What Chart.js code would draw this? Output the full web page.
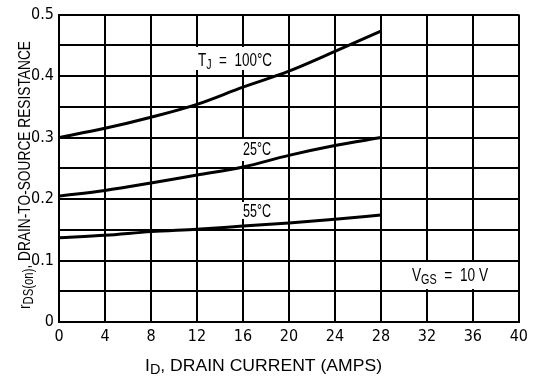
<!DOCTYPE html>
<html>
<head>
<meta charset="utf-8">
<script src="https://cdn.jsdelivr.net/npm/chart.js@4.4.0/dist/chart.umd.min.js"></script>
<style>
  html, body { margin: 0; padding: 0; background: #fff; }
  #wrap { width: 533px; height: 376px; }
</style>
</head>
<body>
<div id="wrap"><canvas id="chart" width="533" height="376"></canvas></div>
<script>
// drain current (A) and on-resistance (ohm)
const current = [0, 4, 8, 12, 16, 20, 24, 28];
const rds100 = [0.300, 0.315, 0.333, 0.354, 0.382, 0.408, 0.440, 0.473];
const rds25 = [0.205, 0.214, 0.226, 0.239, 0.252, 0.271, 0.287, 0.300];
const rds55 = [0.137, 0.141, 0.147, 0.151, 0.156, 0.161, 0.167, 0.174];

const xTicks = [0, 4, 8, 12, 16, 20, 24, 28, 32, 36, 40];
const yLabels = ["0", "0.1", "0.2", "0.3", "0.4", "0.5"];

const TICK_FONT = "'DejaVu Sans Condensed', 'Liberation Sans', sans-serif";
const FONT = "'Liberation Sans', Arial, sans-serif";

function pts(ys) {
  return current.map(function (x, i) { return { x: x, y: ys[i] }; });
}

function series(ys) {
  return {
    data: pts(ys),
    borderColor: "#000",
    borderWidth: 3,
    pointRadius: 0,
    fill: false,
    cubicInterpolationMode: "monotone"
  };
}

// text with subscripts; segs = [{t, sub}], squeezed to targetW
function richWidth(ctx, segs, size) {
  var w = 0;
  segs.forEach(function (s) {
    ctx.font = (s.sub ? Math.round(size * 0.8) : size) + "px " + FONT;
    w += ctx.measureText(s.t).width;
  });
  return w;
}

function drawRich(ctx, segs, x, y, size, targetW) {
  var w = richWidth(ctx, segs, size);
  var sx = targetW ? targetW / w : 1;
  ctx.save();
  ctx.translate(x, y);
  ctx.scale(sx, 1);
  ctx.fillStyle = "#000";
  ctx.textBaseline = "alphabetic";
  ctx.textAlign = "left";
  var cx = 0;
  segs.forEach(function (s) {
    ctx.font = (s.sub ? Math.round(size * 0.8) : size) + "px " + FONT;
    ctx.fillText(s.t, cx, s.sub ? size * 0.18 : 0);
    cx += ctx.measureText(s.t).width;
  });
  ctx.restore();
}

const labelPlugin = {
  id: "labels",
  beforeDatasetsDraw: function (chart) {
    var ctx = chart.ctx;
    // white patches behind in-plot labels
    ctx.save();
    ctx.fillStyle = "#fff";
    ctx.fillRect(193, 47, 84, 23);
    ctx.fillRect(240, 139, 33, 22);
    ctx.fillRect(240, 202, 33, 17);
    ctx.fillRect(402, 262, 100, 27);
    ctx.restore();
    drawRich(ctx, [{ t: "T" }, { t: "J", sub: true }, { t: "  =  100°C" }], 198, 66, 19, 74);
    drawRich(ctx, [{ t: "25°C" }], 243, 155, 19, 28);
    drawRich(ctx, [{ t: "55°C" }], 243, 217, 19, 28);
    drawRich(ctx, [{ t: "V" }, { t: "GS", sub: true }, { t: "  =  10 V" }], 412, 281, 19, 76);
  },
  afterDraw: function (chart) {
    var ctx = chart.ctx;
    // x axis title
    drawRich(ctx, [{ t: "I" }, { t: "D", sub: true }, { t: ", DRAIN CURRENT (AMPS)" }], 145, 371, 17, 237);
    // y axis title, rotated
    ctx.save();
    ctx.translate(30, 309);
    ctx.rotate(-Math.PI / 2);
    drawRich(ctx, [{ t: "r" }, { t: "DS(on)", sub: true }, { t: ", DRAIN-TO-SOURCE RESISTANCE" }], 0, 0, 17, 268);
    ctx.restore();
  }
};

new Chart(document.getElementById("chart"), {
  type: "line",
  data: {
    datasets: [series(rds100), series(rds25), series(rds55)]
  },
  options: {
    responsive: false,
    animation: false,
    layout: { padding: { left: 0, right: 11, top: 11, bottom: 0 } },
    plugins: {
      legend: { display: false },
      tooltip: { enabled: false }
    },
    scales: {
      x: {
        type: "linear",
        min: 0,
        max: 40,
        afterBuildTicks: function (scale) {
          scale.ticks = xTicks.map(function (v) { return { value: v }; });
        },
        afterFit: function (scale) { scale.height = 54; },
        grid: { color: "#000", lineWidth: 2, drawTicks: false },
        border: { color: "#000", width: 2 },
        ticks: {
          color: "#000",
          padding: 5,
          maxRotation: 0,
          font: { family: TICK_FONT, size: 16 }
        }
      },
      y: {
        min: 0,
        max: 0.5,
        afterFit: function (scale) { scale.width = 59; },
        grid: { color: "#000", lineWidth: 2, drawTicks: false },
        border: { color: "#000", width: 2 },
        ticks: {
          stepSize: 0.05,
          color: "#000",
          padding: 5,
          font: { family: TICK_FONT, size: 16 },
          callback: function (v) {
            var k = Math.round(v * 20);
            return k % 2 === 0 ? yLabels[k / 2] : "";
          }
        }
      }
    }
  },
  plugins: [labelPlugin]
});
</script>
</body>
</html>
